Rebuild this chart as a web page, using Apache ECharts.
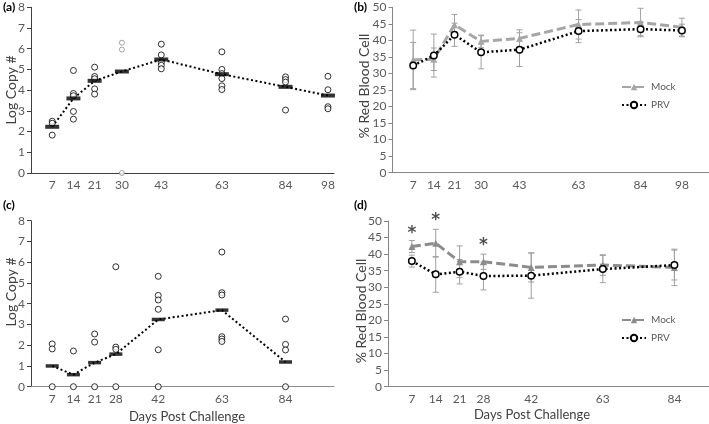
<!DOCTYPE html>
<html><head><meta charset="utf-8">
<script src="https://cdn.jsdelivr.net/npm/echarts@6/dist/echarts.min.js"></script>
<style>html,body{margin:0;padding:0;background:#fff}#c{width:709px;height:424px}</style>
</head><body><div id="c"></div>
<script>
// ---- Panel (a): Log copy # (days 7-98) ----
const aDays = [7, 14, 21, 30, 43, 63, 84, 98];
const aMeans = [2.23, 3.6, 4.45, 4.9, 5.48, 4.77, 4.16, 3.74];
const aPoints = [[2.5, 2.4, 1.83], [4.95, 3.84, 3.73, 2.97, 2.6], [5.11, 4.66, 4.55, 4.06, 3.81], [],
  [6.22, 5.7, 5.33, 5.2, 5.03], [5.85, 5.0, 4.8, 4.56, 4.21, 4.03], [4.64, 4.51, 4.39, 3.04], [4.67, 4.02, 3.2, 3.1]];
const aGrayDay = 30;
const aGrayPoints = [6.29, 5.96, 0];
// ---- Panel (c): Log copy # (days 7-84) ----
const cDays = [7, 14, 21, 28, 42, 63, 84];
const cMeans = [1.0, 0.58, 1.16, 1.57, 3.24, 3.69, 1.19];
const cPoints = [[2.06, 1.82, 0], [1.72, 0], [2.54, 2.15, 0], [5.78, 1.91, 1.8, 0],
  [5.32, 4.4, 4.18, 3.73, 1.78, 0], [6.49, 4.53, 4.42, 2.41, 2.3, 2.18], [3.26, 2.04, 1.77, 0]];
// ---- Panel (b): % Red Blood Cell ----
const bDays = [7, 14, 21, 30, 43, 63, 84, 98];
const bMock = [34.1, 34.3, 44.7, 39.7, 40.6, 44.8, 45.4, 44.0];
const bMockSD = [9.0, 3.4, 3.1, 1.9, 2.6, 4.4, 4.3, 2.7];
const bPRV = [32.4, 35.4, 41.7, 36.4, 37.2, 42.8, 43.4, 43.0];
const bPRVSD = [7.0, 6.5, 3.5, 5.0, 5.1, 3.5, 2.0, 1.9];
// ---- Panel (d): % Red Blood Cell ----
const dDays = [7, 14, 21, 28, 42, 63, 84];
const dMock = [42.3, 43.3, 37.7, 37.7, 36.0, 36.7, 36.0];
const dMockSD = [1.8, 4.2, 4.8, 2.3, 4.4, 3.1, 5.5];
const dPRV = [37.9, 33.9, 34.7, 33.4, 33.5, 35.5, 36.7];
const dPRVSD = [1.8, 5.4, 3.7, 4.2, 6.8, 4.1, 4.5];
const dStarDays = [7, 14, 28];
const dStarY = [47.3, 51.3, 43.8];

const FONT = 'Lato';
const zip = (xs, ys) => xs.map((x, i) => [x, ys[i]]);
const flatPts = (days, pts) => { const o = []; days.forEach((d, i) => pts[i].forEach(v => o.push([d, v]))); return o; };
const errData = (days, m, sd) => days.map((d, i) => [d, m[i] - sd[i], m[i] + sd[i]]);

function errSeries(idx, data, color) {
  return {
    type: 'custom', xAxisIndex: idx, yAxisIndex: idx, z: 1, silent: true,
    renderItem: function (params, api) {
      const x = api.value(0);
      const lo = api.coord([x, api.value(1)]);
      const hi = api.coord([x, api.value(2)]);
      const w = 3;
      const st = { stroke: color, lineWidth: 1 };
      return { type: 'group', children: [
        { type: 'line', shape: { x1: lo[0], y1: lo[1], x2: hi[0], y2: hi[1] }, style: st },
        { type: 'line', shape: { x1: lo[0] - w, y1: lo[1], x2: lo[0] + w, y2: lo[1] }, style: st },
        { type: 'line', shape: { x1: hi[0] - w, y1: hi[1], x2: hi[0] + w, y2: hi[1] }, style: st }
      ]};
    },
    encode: { x: 0, y: [1, 2] },
    data: data
  };
}

const labelStyle = { color: '#595959', fontFamily: FONT, fontSize: 12 };

function xAxisDef(idx, max, ticks, lineColor) {
  return {
    type: 'value', gridIndex: idx, min: 0, max: max,
    axisLine: { show: true, lineStyle: { color: lineColor, width: 1.2 } },
    axisTick: { show: false },
    splitLine: { show: false },
    axisLabel: Object.assign({ customValues: ticks, margin: 6, showMinLabel: true, showMaxLabel: true }, labelStyle)
  };
}
function yAxisDef(idx, max, interval, lineColor) {
  return {
    type: 'value', gridIndex: idx, min: 0, max: max, interval: interval,
    axisLine: { show: true, lineStyle: { color: lineColor, width: 1 } },
    axisTick: { show: true, length: 4, lineStyle: { color: lineColor } },
    splitLine: { show: false },
    axisLabel: Object.assign({ margin: 6 }, labelStyle)
  };
}

const chart = echarts.init(document.getElementById('c'), null, { renderer: 'canvas' });
const option = {
  animation: false,
  backgroundColor: '#fff',
  grid: [
    { left: 31, top: 7.3, width: 303, height: 165.7 },
    { left: 392.5, top: 7.3, width: 316, height: 165.4 },
    { left: 31, top: 220.7, width: 303, height: 166 },
    { left: 388, top: 221, width: 320.5, height: 165.7 }
  ],
  xAxis: [
    xAxisDef(0, 100, aDays, '#404040'),
    xAxisDef(1, 107, bDays, '#868686'),
    xAxisDef(2, 100, cDays, '#8c8c8c'),
    xAxisDef(3, 94, dDays, '#868686')
  ],
  yAxis: [
    yAxisDef(0, 8, 1, '#404040'),
    yAxisDef(1, 50, 5, '#868686'),
    yAxisDef(2, 8, 1, '#404040'),
    yAxisDef(3, 50, 5, '#868686')
  ],
  legend: [
    { data: ['Mock', 'PRV'], left: 616, top: 77, orient: 'vertical', itemWidth: 24, itemHeight: 8, itemGap: 8,
      textStyle: { fontFamily: FONT, fontSize: 10, color: '#595959' } },
    { data: ['Mock-d', 'PRV-d'], left: 616, top: 310, orient: 'vertical', itemWidth: 24, itemHeight: 8, itemGap: 8,
      formatter: n => n.replace('-d', ''),
      textStyle: { fontFamily: FONT, fontSize: 10, color: '#595959' } }
  ],
  graphic: [
    { type: 'text', left: 3, top: 1, style: { text: '(a)', font: 'bold 12px ' + FONT, fill: '#000' } },
    { type: 'text', left: 354, top: 1, style: { text: '(b)', font: 'bold 12px ' + FONT, fill: '#000' } },
    { type: 'text', left: 3, top: 199, style: { text: '(c)', font: 'bold 12px ' + FONT, fill: '#000' } },
    { type: 'text', left: 354, top: 199, style: { text: '(d)', font: 'bold 12px ' + FONT, fill: '#000' } },
    { type: 'text', x: 11, y: 90, rotation: Math.PI / 2, style: { text: 'Log Copy #', font: '14px ' + FONT, fill: '#404040', textAlign: 'center', textVerticalAlign: 'middle' } },
    { type: 'text', x: 11, y: 292, rotation: Math.PI / 2, style: { text: 'Log Copy #', font: '14px ' + FONT, fill: '#404040', textAlign: 'center', textVerticalAlign: 'middle' } },
    { type: 'text', x: 364, y: 86, rotation: Math.PI / 2, style: { text: '% Red Blood Cell', font: '14px ' + FONT, fill: '#404040', textAlign: 'center', textVerticalAlign: 'middle' } },
    { type: 'text', x: 361, y: 311, rotation: Math.PI / 2, style: { text: '% Red Blood Cell', font: '14px ' + FONT, fill: '#404040', textAlign: 'center', textVerticalAlign: 'middle' } },
    { type: 'text', x: 187, y: 417, style: { text: 'Days Post Challenge', font: '13px ' + FONT, fill: '#404040', textAlign: 'center', textVerticalAlign: 'middle' } },
    { type: 'text', x: 532, y: 415, style: { text: 'Days Post Challenge', font: '13px ' + FONT, fill: '#404040', textAlign: 'center', textVerticalAlign: 'middle' } }
  ],
  series: [
    // ---- (a) ----
    { type: 'line', xAxisIndex: 0, yAxisIndex: 0, data: zip(aDays, aMeans), showSymbol: false, symbol: 'none', z: 2,
      lineStyle: { color: '#000', width: 2, type: [2, 2.5] } },
    { type: 'scatter', xAxisIndex: 0, yAxisIndex: 0, data: flatPts(aDays, aPoints), symbol: 'circle', symbolSize: 6, z: 3,
      itemStyle: { color: '#fff', borderColor: '#000', borderWidth: 1 } },
    { type: 'scatter', xAxisIndex: 0, yAxisIndex: 0, data: aGrayPoints.map(v => [aGrayDay, v]), symbol: 'circle', symbolSize: 5, z: 3, clip: false,
      itemStyle: { color: '#fff', borderColor: '#8c8c8c', borderWidth: 1 } },
    { type: 'scatter', xAxisIndex: 0, yAxisIndex: 0, data: zip(aDays, aMeans), symbol: 'rect', symbolSize: [14, 4], z: 4,
      itemStyle: { color: '#000' } },
    // ---- (c) ----
    { type: 'line', xAxisIndex: 2, yAxisIndex: 2, data: zip(cDays, cMeans), showSymbol: false, symbol: 'none', z: 2,
      lineStyle: { color: '#000', width: 2, type: [2, 2.5] } },
    { type: 'scatter', xAxisIndex: 2, yAxisIndex: 2, data: flatPts(cDays, cPoints), symbol: 'circle', symbolSize: 6, z: 3, clip: false,
      itemStyle: { color: '#fff', borderColor: '#000', borderWidth: 1 } },
    { type: 'scatter', xAxisIndex: 2, yAxisIndex: 2, data: zip(cDays, cMeans), symbol: 'rect', symbolSize: [13, 3.5], z: 4,
      itemStyle: { color: '#000' } },
    // ---- (b) ----
    errSeries(1, errData(bDays, bMock, bMockSD), '#a0a0a0'),
    errSeries(1, errData(bDays, bPRV, bPRVSD), '#a0a0a0'),
    { name: 'Mock', type: 'line', xAxisIndex: 1, yAxisIndex: 1, data: zip(bDays, bMock), symbol: 'triangle', symbolSize: 7, z: 3,
      lineStyle: { color: '#a6a6a6', width: 3, type: [9, 4] }, itemStyle: { color: '#a6a6a6' } },
    { name: 'PRV', type: 'line', xAxisIndex: 1, yAxisIndex: 1, data: zip(bDays, bPRV), symbol: 'circle', symbolSize: 6.5, z: 4,
      lineStyle: { color: '#000', width: 2.5, type: [2, 2.5] }, itemStyle: { color: '#fff', borderColor: '#000', borderWidth: 1.5 } },
    // ---- (d) ----
    errSeries(3, errData(dDays, dMock, dMockSD), '#a0a0a0'),
    errSeries(3, errData(dDays, dPRV, dPRVSD), '#a0a0a0'),
    { name: 'Mock-d', type: 'line', xAxisIndex: 3, yAxisIndex: 3, data: zip(dDays, dMock), symbol: 'triangle', symbolSize: 7, z: 3,
      lineStyle: { color: '#8c8c8c', width: 3, type: [9, 4] }, itemStyle: { color: '#8c8c8c' } },
    { name: 'PRV-d', type: 'line', xAxisIndex: 3, yAxisIndex: 3, data: zip(dDays, dPRV), symbol: 'circle', symbolSize: 6.5, z: 4,
      lineStyle: { color: '#000', width: 2.5, type: [2, 2.5] }, itemStyle: { color: '#fff', borderColor: '#000', borderWidth: 1.5 } },
    { type: 'scatter', xAxisIndex: 3, yAxisIndex: 3, data: zip(dStarDays, dStarY), symbol: 'circle', symbolSize: 1, clip: false, z: 5,
      itemStyle: { color: 'rgba(0,0,0,0)' },
      label: { show: true, position: 'inside', formatter: '*', fontFamily: 'DejaVu Sans', fontSize: 17, fontWeight: 'bold', color: '#262626', offset: [0, 4] } }
  ]
};
chart.setOption(option);
</script></body></html>
